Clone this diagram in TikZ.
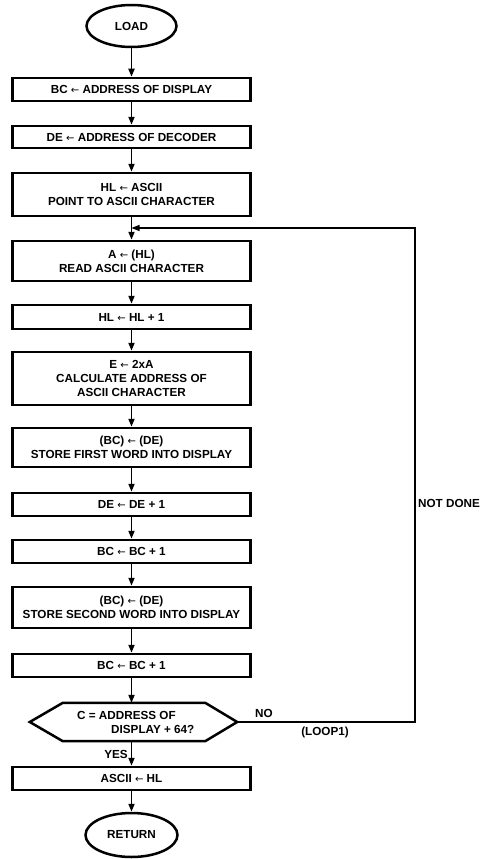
\documentclass[tikz,border=0pt]{standalone}
\usepackage{fontspec}
\setmainfont{Liberation Sans}
\newfontfamily\symf{DejaVu Sans}
\newcommand\la{{\symf\mdseries\fontsize{10}{12}\selectfont ←}}
\usetikzlibrary{arrows.meta,shapes.geometric}
\begin{document}
\begin{tikzpicture}[x=1pt,y=-1pt,
  font=\fontsize{11.7}{14}\selectfont\bfseries,
  box/.style={draw,line width=2.5pt,minimum width=238pt,inner sep=0pt,align=center},
  term/.style={draw,ellipse,line width=2.5pt,minimum width=90pt,minimum height=42pt,inner sep=0pt},
  flow/.style={line width=1.8pt,-{Triangle[length=8pt,width=6pt]}},
  loopline/.style={line width=1.3pt,-{Triangle[length=8pt,width=6pt]}},
  lbl/.style={inner sep=0pt}]
\useasboundingbox (0,0) rectangle (489,859);

\node[term] (load) at (131.5,26) {LOAD};
\node[box,minimum height=23pt] (b1) at (131.5,89.5) {BC \la{} ADDRESS OF DISPLAY};
\node[box,minimum height=22pt] (b2) at (131.5,137) {DE \la{} ADDRESS OF DECODER};
\node[box,minimum height=43pt] (b3) at (131.5,194.5) {HL \la{} ASCII\\POINT TO ASCII CHARACTER};
\node[box,minimum height=40pt] (b4) at (131.5,261) {A \la{} (HL)\\READ ASCII CHARACTER};
\node[box,minimum height=24pt] (b5) at (131.5,317) {HL \la{} HL + 1};
\node[box,minimum height=53pt] (b6) at (131.5,378.5) {E \la{} 2xA\\CALCULATE ADDRESS OF\\ASCII CHARACTER};
\node[box,minimum height=39pt] (b7) at (131.5,447.5) {(BC) \la{} (DE)\\STORE FIRST WORD INTO DISPLAY};
\node[box,minimum height=23pt] (b8) at (131.5,504.5) {DE \la{} DE + 1};
\node[box,minimum height=23pt] (b9) at (131.5,551.5) {BC \la{} BC + 1};
\node[box,minimum height=41pt] (b10) at (131.5,607.5) {(BC) \la{} (DE)\\STORE SECOND WORD INTO DISPLAY};
\node[box,minimum height=23pt] (b11) at (131.5,665.5) {BC \la{} BC + 1};

% decision
\node[minimum width=207pt,minimum height=38pt,inner sep=0pt] (dec) at (133.5,722) {};
\draw[line width=2.5pt,line join=miter] (dec.west) -- ([xshift=33pt]dec.north west) -- ([xshift=-32pt]dec.north east)
  -- (dec.east) -- ([xshift=-32pt]dec.south east) -- ([xshift=33pt]dec.south west) -- cycle;
\node[lbl,anchor=west,align=left] (dectext) at (77,722) {C = ADDRESS OF\\\hspace*{34pt}DISPLAY + 64?};

\node[box,minimum height=23pt] (b12) at (131.5,778.5) {ASCII \la{} HL};
\node[term,minimum width=92pt,minimum height=44pt] (ret) at (131.5,835) {RETURN};

% flow arrows
\draw[flow] (load) -- (b1);
\draw[flow] (b1) -- (b2);
\draw[flow] (b2) -- (b3);
\draw[flow] (b3) -- (b4);
\draw[flow] (b4) -- (b5);
\draw[flow] (b5) -- (b6);
\draw[flow] (b6) -- (b7);
\draw[flow] (b7) -- (b8);
\draw[flow] (b8) -- (b9);
\draw[flow] (b9) -- (b10);
\draw[flow] (b10) -- (b11);
\draw[flow] (b11.south) -- (b11.south |- dec.north);
\draw[flow] (b11.south |- dec.south) -- (b12.north);
\draw[flow] (b12) -- (ret);

% loop back
\coordinate (lr) at (415,722);
\coordinate (lt) at (415,228);
\draw[loopline] (dec.east) -- (lr) -- (lt) -- (b3.south |- lt);

% labels
\node[lbl] (no) at (264,713) {NO};
\node[lbl] (loop1) at (325,732) {(LOOP1)};
\node[lbl] (notdone) at (449,503) {NOT DONE};
\node[lbl] (yes) at (116,754) {YES};
\end{tikzpicture}
\end{document}
